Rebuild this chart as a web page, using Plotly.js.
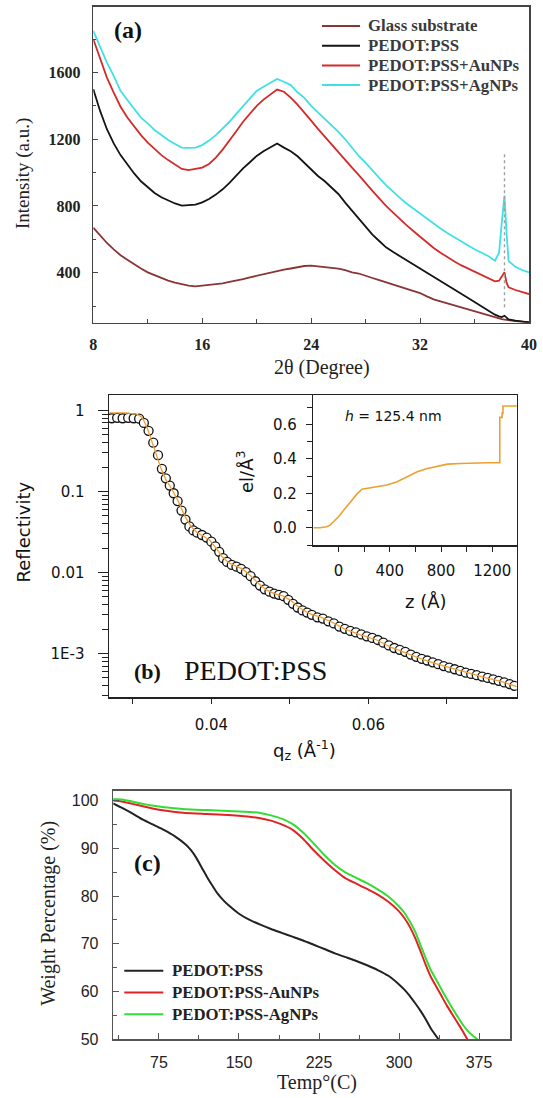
<!DOCTYPE html>
<html><head><meta charset="utf-8">
<script src="https://cdn.plot.ly/plotly-3.0.1.min.js"></script>
<style>html,body{margin:0;padding:0;background:#fff;} #chart{width:543px;height:1098px;}</style>
</head><body><div id="chart"></div>
<script>
// ---------- Panel (a): XRD ----------
const twoTheta = [8, 8.5, 9, 9.5, 10, 10.5, 11, 11.5, 12, 12.5, 13, 13.5, 14, 14.5, 15, 15.5, 16, 16.5, 17, 17.5, 18, 18.5, 19, 19.5, 20, 20.5, 21, 21.5, 22, 22.5, 23, 23.5, 24, 24.5, 25, 25.5, 26, 26.5, 27, 27.5, 28, 28.5, 29, 29.5, 30, 30.5, 31, 31.5, 32, 32.5, 33, 33.5, 34, 34.5, 35, 35.5, 36, 36.5, 37, 37.5, 37.8, 38.0, 38.2, 38.35, 38.5, 39, 39.5, 40];
const glassI = [670, 622, 578, 540, 505, 478, 450, 425, 402, 385, 366, 352, 340, 330, 322, 318, 322, 325, 330, 336, 345, 352, 362, 372, 382, 392, 400, 410, 418, 425, 432, 440, 442, 438, 436, 428, 424, 415, 402, 395, 380, 368, 355, 342, 330, 316, 302, 292, 278, 258, 240, 228, 216, 202, 190, 178, 166, 155, 142, 130, 124, 121, 119, 117, 115, 110, 106, 103];
const pedotI = [1500, 1370, 1260, 1175, 1105, 1050, 995, 948, 910, 878, 852, 832, 815, 802, 806, 808, 822, 842, 868, 900, 938, 982, 1025, 1062, 1100, 1128, 1150, 1175, 1150, 1128, 1098, 1058, 1020, 980, 948, 912, 872, 820, 772, 720, 672, 628, 590, 552, 525, 500, 475, 455, 428, 400, 375, 352, 326, 300, 276, 250, 224, 198, 172, 148, 138, 134, 142, 128, 120, 112, 106, 102];
const auI = [1800, 1680, 1570, 1480, 1395, 1330, 1275, 1225, 1180, 1140, 1105, 1075, 1048, 1022, 1015, 1022, 1030, 1052, 1090, 1138, 1190, 1248, 1305, 1355, 1400, 1438, 1470, 1498, 1485, 1450, 1408, 1362, 1312, 1262, 1215, 1165, 1120, 1075, 1030, 985, 935, 890, 845, 800, 762, 722, 685, 650, 615, 580, 548, 520, 492, 468, 445, 425, 405, 385, 365, 348, 352, 378, 402, 340, 312, 296, 282, 272];
const agI = [1850, 1750, 1660, 1580, 1490, 1435, 1380, 1330, 1295, 1255, 1225, 1195, 1172, 1150, 1148, 1150, 1165, 1192, 1225, 1262, 1305, 1352, 1400, 1445, 1490, 1515, 1540, 1562, 1545, 1525, 1482, 1448, 1400, 1362, 1320, 1285, 1245, 1200, 1150, 1100, 1058, 1010, 968, 925, 885, 850, 815, 785, 752, 722, 695, 665, 638, 612, 588, 565, 540, 518, 500, 472, 520, 700, 862, 640, 470, 435, 416, 402];
const xrdNames = ['Glass substrate', 'PEDOT:PSS', 'PEDOT:PSS+AuNPs', 'PEDOT:PSS+AgNPs'];
const xrdColors = ['#8a3434', '#141414', '#d42a2a', '#3fe0e6'];
const agPeakX = [38.2, 38.2];
const agPeakY = [1110, 180];

// ---------- Panel (b): reflectivity ----------
const qData = [0.0273, 0.0280, 0.0287, 0.0294, 0.0301, 0.0308, 0.0314, 0.0320, 0.0326, 0.0332, 0.0337, 0.0342, 0.0347, 0.0352, 0.0357, 0.0362, 0.0367, 0.0372, 0.0377, 0.0382, 0.0388, 0.0394, 0.0400, 0.0405, 0.0410, 0.0415, 0.0420, 0.0426, 0.0432, 0.0438, 0.0444, 0.0450, 0.0456, 0.0462, 0.0468, 0.0474, 0.0480, 0.0486, 0.0492, 0.0498, 0.0504, 0.0510, 0.0516, 0.0522, 0.0528, 0.0535, 0.0542, 0.0549, 0.0556, 0.0563, 0.0570, 0.0577, 0.0584, 0.0591, 0.0598, 0.0605, 0.0612, 0.0619, 0.0626, 0.0633, 0.0640, 0.0647, 0.0654, 0.0661, 0.0668, 0.0675, 0.0682, 0.0689, 0.0696, 0.0703, 0.0710, 0.0717, 0.0724, 0.0731, 0.0738, 0.0745, 0.0752, 0.0759, 0.0766, 0.0773, 0.0780, 0.0786];
const rData = [0.80, 0.81, 0.80, 0.81, 0.80, 0.79, 0.70, 0.56, 0.40, 0.28, 0.19, 0.145, 0.118, 0.095, 0.076, 0.058, 0.045, 0.037, 0.033, 0.031, 0.029, 0.027, 0.024, 0.021, 0.018, 0.015, 0.0135, 0.0124, 0.0118, 0.0111, 0.0101, 0.0090, 0.0078, 0.0069, 0.0062, 0.0058, 0.0055, 0.0053, 0.0051, 0.0046, 0.0041, 0.0037, 0.0034, 0.0032, 0.0030, 0.0028, 0.0027, 0.0025, 0.00235, 0.00215, 0.00202, 0.00190, 0.00182, 0.00172, 0.00163, 0.00156, 0.00147, 0.00136, 0.00126, 0.00117, 0.00111, 0.00105, 0.00097, 0.00091, 0.00086, 0.00082, 0.00078, 0.00074, 0.00070, 0.00067, 0.00064, 0.00061, 0.00058, 0.00056, 0.00054, 0.00052, 0.00050, 0.00048, 0.00046, 0.00044, 0.00042, 0.00040];
const qFit = [0.0270, 0.0290, 0.0305, 0.0312, 0.0318, 0.0324, 0.0330, 0.0336, 0.0342, 0.0350, 0.0358, 0.0366, 0.0374, 0.0382, 0.0390, 0.0398, 0.0406, 0.0414, 0.0422, 0.0430, 0.0440, 0.0450, 0.0460, 0.0470, 0.0480, 0.0490, 0.0500, 0.0512, 0.0525, 0.0540, 0.0555, 0.0570, 0.0590, 0.0610, 0.0630, 0.0650, 0.0670, 0.0690, 0.0710, 0.0730, 0.0750, 0.0770, 0.0789];
const rFit = [0.93, 0.93, 0.90, 0.82, 0.62, 0.42, 0.28, 0.19, 0.14, 0.105, 0.075, 0.050, 0.037, 0.031, 0.028, 0.025, 0.020, 0.0155, 0.0132, 0.0122, 0.0110, 0.0091, 0.0073, 0.0061, 0.0055, 0.0052, 0.0046, 0.0037, 0.0031, 0.0028, 0.0024, 0.0020, 0.0017, 0.00148, 0.00118, 0.00100, 0.00084, 0.00073, 0.00064, 0.00056, 0.00050, 0.00045, 0.00039];
const rTickVals = [1, 0.1, 0.01, 0.001];
const rTickText = ['1', '0.1', '0.01', '1E-3'];

// inset: electron density profile
const zProfile = [-196, -144, -92, -65, -39, 0, 39, 92, 144, 183, 222, 301, 379, 458, 536, 614, 693, 771, 850, 954, 1059, 1163, 1258, 1258, 1276, 1276, 1283, 1283, 1400];
const rhoProfile = [0.000, 0.000, 0.006, 0.015, 0.035, 0.064, 0.100, 0.150, 0.195, 0.224, 0.228, 0.238, 0.248, 0.267, 0.296, 0.325, 0.344, 0.358, 0.369, 0.373, 0.377, 0.377, 0.377, 0.640, 0.640, 0.665, 0.665, 0.706, 0.706];

// ---------- Panel (c): TGA ----------
const tempPedot = [32, 40, 50, 60, 70, 80, 90, 100, 105, 110, 115, 120, 125, 130, 135, 140, 150, 160, 170, 180, 190, 200, 210, 220, 230, 240, 250, 260, 270, 280, 290, 300, 305, 310, 315, 320, 325, 330, 337];
const wPedot = [99.4, 98.5, 97.3, 96.0, 94.9, 93.8, 92.5, 90.8, 89.6, 88.0, 86.0, 84.0, 82.2, 80.5, 79.2, 78.1, 76.3, 75.0, 74.0, 73.1, 72.3, 71.5, 70.7, 69.8, 68.9, 68.0, 67.2, 66.4, 65.5, 64.5, 63.3, 61.5, 60.4, 59.1, 57.6, 56.0, 54.2, 52.2, 50.0];
const tempAu = [32, 40, 50, 60, 70, 80, 90, 100, 120, 140, 160, 170, 180, 190, 200, 210, 220, 230, 240, 250, 260, 270, 280, 290, 300, 305, 310, 315, 320, 325, 330, 335, 340, 345, 350, 355, 360, 364];
const wAu = [100.0, 99.8, 99.3, 98.8, 98.3, 97.9, 97.6, 97.4, 97.2, 97.0, 96.6, 96.3, 95.8, 95.0, 93.9, 92.0, 89.6, 87.4, 85.4, 83.7, 82.6, 81.5, 80.3, 78.8, 76.8, 75.4, 73.6, 71.3, 68.5, 65.6, 63.0, 61.0, 59.0, 57.0, 55.2, 53.4, 51.6, 50.0];
const tempAg = [32, 40, 50, 60, 70, 80, 90, 100, 120, 140, 160, 170, 180, 190, 200, 210, 220, 230, 240, 250, 260, 270, 280, 290, 300, 305, 310, 315, 320, 325, 330, 335, 340, 345, 350, 355, 360, 365, 370, 373.5];
const wAg = [100.3, 100.2, 99.8, 99.3, 98.9, 98.6, 98.4, 98.2, 98.0, 97.8, 97.6, 97.4, 96.9, 96.2, 95.1, 93.3, 91.0, 88.6, 86.5, 84.9, 83.8, 82.7, 81.4, 79.9, 77.8, 76.5, 74.7, 72.6, 69.8, 67.0, 64.4, 62.4, 60.4, 58.4, 56.5, 54.7, 53.0, 51.6, 50.6, 50.0];
const tgaNames = ['PEDOT:PSS', 'PEDOT:PSS-AuNPs', 'PEDOT:PSS-AgNPs'];
const tgaColors = ['#222222', '#e02424', '#33dd33'];

// ---------- helpers ----------
const W = 543, H = 1098;
const fx = px => px / W;
const fy = py => 1 - py / H;
const SERIF = 'Liberation Serif, Times New Roman, serif';
const DEJA = 'DejaVu Sans, Verdana, sans-serif';
const ARIAL = 'Liberation Sans, Arial, sans-serif';

const logMinor = [];
for (let d = -4; d <= 0; d++) for (let k = 2; k <= 9; k++) logMinor.push(k * Math.pow(10, d));

const xrdSeries = [glassI, pedotI, auI, agI];
const traces = [];
xrdSeries.forEach((ys, i) => traces.push({
  x: twoTheta, y: ys, type: 'scatter', mode: 'lines', name: xrdNames[i],
  line: {color: xrdColors[i], width: 1.8}, xaxis: 'x', yaxis: 'y', showlegend: false
}));
traces.push({x: agPeakX, y: agPeakY, type: 'scatter', mode: 'lines', line: {color: '#a0a0a0', width: 1.4, dash: 'dot'}, xaxis: 'x', yaxis: 'y', showlegend: false});

traces.push({x: qData, y: rData, type: 'scatter', mode: 'markers', xaxis: 'x2', yaxis: 'y2', showlegend: false,
  marker: {symbol: 'circle', size: 9, color: '#ffffff', line: {color: '#111', width: 1.3}}});
traces.push({x: qFit, y: rFit, type: 'scatter', mode: 'lines', xaxis: 'x2', yaxis: 'y2', showlegend: false,
  line: {color: '#f0a030', width: 1.3}});
traces.push({x: zProfile, y: rhoProfile, type: 'scatter', mode: 'lines', xaxis: 'x3', yaxis: 'y3', showlegend: false,
  line: {color: '#eda030', width: 1.6}});

const tgaX = [tempPedot, tempAu, tempAg], tgaY = [wPedot, wAu, wAg];
tgaX.forEach((xs, i) => traces.push({x: xs, y: tgaY[i], type: 'scatter', mode: 'lines', name: tgaNames[i],
  xaxis: 'x4', yaxis: 'y4', showlegend: false, line: {color: tgaColors[i], width: 2, shape: 'spline', smoothing: 0.6}}));

const frame = (c, w) => ({showline: true, linecolor: c, linewidth: w, mirror: true, showgrid: false, zeroline: false, automargin: false, fixedrange: true});

const layout = {
  width: W, height: H, margin: {l: 0, r: 0, t: 0, b: 0},
  paper_bgcolor: '#fff', plot_bgcolor: '#fff', showlegend: false,
  xaxis: Object.assign(frame('#444', 1.6), {domain: [fx(93.3), fx(529)], anchor: 'y', range: [8, 40],
    tick0: 8, dtick: 8, ticks: 'inside', ticklen: 5, tickcolor: '#444', ticklabelstandoff: 6,
    minor: {dtick: 4, ticks: 'inside', ticklen: 4, tickcolor: '#444'},
    tickfont: {family: SERIF, size: 16, color: '#222', weight: 'bold'}}),
  yaxis: Object.assign(frame('#444', 1.6), {domain: [fy(322.7), fy(6.7)], anchor: 'x', range: [100, 1995],
    tick0: 0, dtick: 400, ticks: 'inside', ticklen: 5, tickcolor: '#444', ticklabelstandoff: 8,
    minor: {dtick: 200, ticks: 'inside', ticklen: 3, tickcolor: '#444'},
    tickfont: {family: SERIF, size: 16, color: '#222', weight: 'bold'}}),
  xaxis2: Object.assign(frame('#222', 1.5), {domain: [fx(109), fx(516.7)], anchor: 'y2', range: [0.02696, 0.07889],
    tick0: 0, dtick: 0.02, ticks: 'outside', ticklen: 5, tickcolor: '#222', ticklabelstandoff: 8,
    minor: {dtick: 0.01, ticks: 'outside', ticklen: 5, tickcolor: '#222'},
    tickfont: {family: DEJA, size: 15, color: '#111'}}),
  yaxis2: Object.assign(frame('#222', 1.5), {domain: [fy(697.3), fy(395)], anchor: 'x2', type: 'log', range: [-3.54, 0.19],
    tickmode: 'array', tickvals: rTickVals, ticktext: rTickText, ticks: 'outside', ticklen: 10, tickcolor: '#222', ticklabelstandoff: 10,
    minor: {tickmode: 'array', tickvals: logMinor, ticks: 'outside', ticklen: 6, tickcolor: '#222'},
    tickfont: {family: DEJA, size: 15, color: '#111'}}),
  xaxis3: Object.assign(frame('#222', 1.5), {domain: [fx(313.3), fx(516.7)], anchor: 'y3', range: [-196, 1390],
    tick0: 0, dtick: 400, ticks: 'outside', ticklen: 5, tickcolor: '#222', ticklabelstandoff: 6,
    minor: {dtick: 200, ticks: 'outside', ticklen: 5, tickcolor: '#222'},
    tickfont: {family: DEJA, size: 15, color: '#111'}}),
  yaxis3: Object.assign(frame('#222', 1.5), {domain: [fy(545), fy(395)], anchor: 'x3', range: [-0.1, 0.77],
    tick0: 0, dtick: 0.2, tickformat: '.1f', ticks: 'outside', ticklen: 6, tickcolor: '#222', ticklabelstandoff: 6,
    minor: {dtick: 0.1, ticks: 'outside', ticklen: 5, tickcolor: '#222'},
    tickfont: {family: DEJA, size: 15, color: '#111'}}),
  xaxis4: Object.assign(frame('#555', 1.6), {domain: [fx(113.3), fx(510)], anchor: 'y4', range: [32.2, 404],
    tick0: 0, dtick: 75, ticks: 'inside', ticklen: 6, tickcolor: '#555', ticklabelstandoff: 8,
    minor: {dtick: 37.5, ticks: 'inside', ticklen: 4, tickcolor: '#555'},
    tickfont: {family: ARIAL, size: 16, color: '#222'}}),
  yaxis4: Object.assign(frame('#555', 1.6), {domain: [fy(1039.3), fy(791)], anchor: 'x4', range: [50, 102],
    tick0: 0, dtick: 10, ticks: 'inside', ticklen: 6, tickcolor: '#555', ticklabelstandoff: 10,
    minor: {dtick: 5, ticks: 'inside', ticklen: 4, tickcolor: '#555'},
    tickfont: {family: ARIAL, size: 16, color: '#222'}}),
  shapes: [],
  annotations: []
};

const ann = (px, py, text, font, extra) => layout.annotations.push(Object.assign({
  xref: 'paper', yref: 'paper', x: fx(px), y: fy(py), text: text, showarrow: false,
  xanchor: 'center', yanchor: 'middle', font: font}, extra || {}));

// Panel (a) texts
ann(112, 30, '(a)', {family: SERIF, size: 24, color: '#111', weight: 'bold'}, {xanchor: 'left'});
ann(23, 174, 'Intensity (a.u.)', {family: SERIF, size: 19, color: '#222'}, {textangle: -90});
ann(322, 367, '2θ (Degree)', {family: SERIF, size: 20, color: '#222'});
xrdNames.forEach((nm, i) => {
  const yy = 26 + 19.7 * i;
  layout.shapes.push({type: 'line', xref: 'paper', yref: 'paper', x0: fx(322), x1: fx(360), y0: fy(yy), y1: fy(yy), line: {color: xrdColors[i], width: 2}});
  ann(366, yy, nm, {family: SERIF, size: 16.8, color: '#3a3a3a', weight: 'bold'}, {xanchor: 'left'});
});

// Panel (b) texts
ann(24.4, 532, 'Reflectivity', {family: DEJA, size: 18, color: '#111'}, {textangle: -90});
ann(304, 750, 'q<sub>z</sub> (Å<sup>-1</sup>)', {family: DEJA, size: 18, color: '#111'});
ann(132, 671, '(b)', {family: SERIF, size: 22, color: '#111', weight: 'bold'}, {xanchor: 'left'});
ann(182, 670, 'PEDOT:PSS', {family: SERIF, size: 28, color: '#111'}, {xanchor: 'left'});
ann(393, 416, '<i>h</i> = 125.4 nm', {family: DEJA, size: 14, color: '#111'});
ann(245, 472, 'el/Å<sup>3</sup>', {family: DEJA, size: 18, color: '#111'}, {textangle: -90});
ann(426, 601, 'z (Å)', {family: DEJA, size: 18, color: '#111'});

// Panel (c) texts
ann(131.5, 863, '(c)', {family: SERIF, size: 24, color: '#111', weight: 'bold'}, {xanchor: 'left'});
ann(47.8, 913, 'Weight Percentage (%)', {family: SERIF, size: 20, color: '#222'}, {textangle: -90});
ann(316.8, 1082, 'Temp°(C)', {family: SERIF, size: 20, color: '#222'});
tgaNames.forEach((nm, i) => {
  const yy = 970.7 + 21.8 * i;
  layout.shapes.push({type: 'line', xref: 'paper', yref: 'paper', x0: fx(124.3), x1: fx(163.3), y0: fy(yy), y1: fy(yy), line: {color: tgaColors[i], width: 2}});
  ann(169.5, yy, nm, {family: SERIF, size: 16.8, color: '#222', weight: 'bold'}, {xanchor: 'left'});
});

Plotly.newPlot('chart', traces, layout, {staticPlot: true, displayModeBar: false});
</script></body></html>
